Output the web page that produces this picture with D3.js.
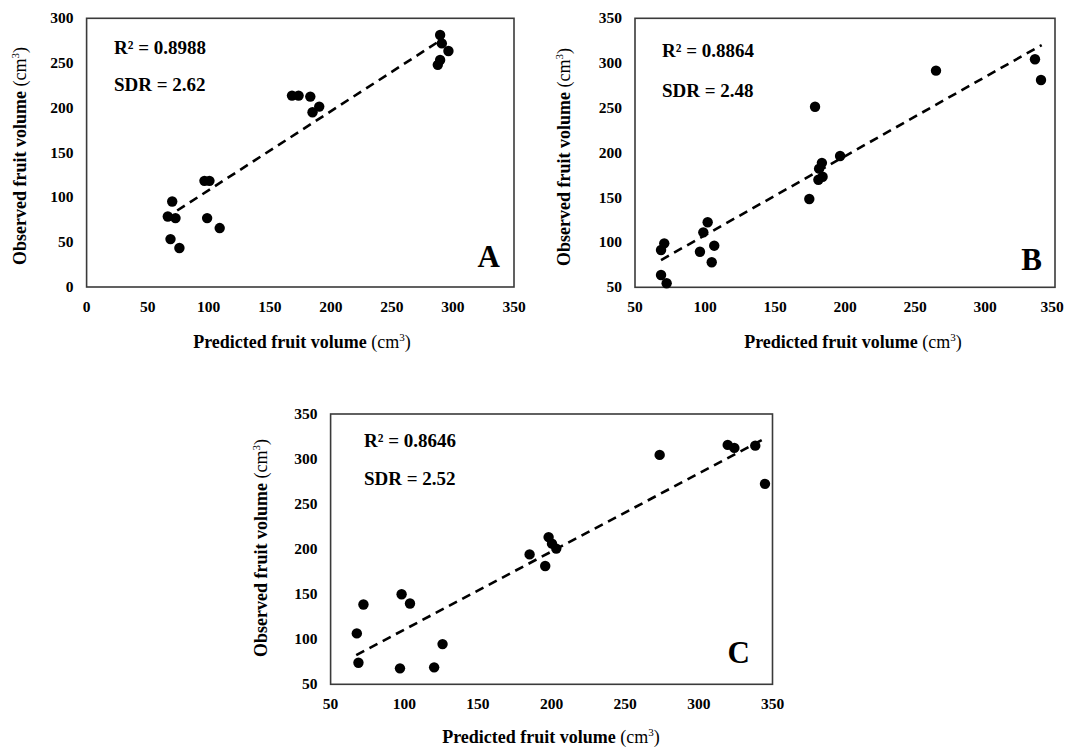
<!DOCTYPE html>
<html>
<head>
<meta charset="utf-8">
<script src="https://cdn.jsdelivr.net/npm/d3@7"></script>
<style>
  body { margin: 0; background: #fff; }
  svg { display: block; }
  text { font-family: "Liberation Serif", "Times New Roman", serif; fill: #000; }
</style>
</head>
<body>
<svg id="chart" width="1065" height="747"></svg>
<script>
'use strict';

// Panel A
const predA = [289.5, 290.9, 296.3, 289.5, 287.6, 168.2, 173.6, 183.2, 190.5, 185.0,
  96.5, 100.6, 70.1, 66.5, 72.8, 98.7, 109.0, 68.7, 76.0];
const obsA = [281.4, 272.0, 263.5, 253.5, 248.0, 213.7, 213.7, 212.6, 201.4, 195.1,
  118.5, 118.5, 95.5, 78.7, 76.9, 76.9, 65.8, 53.5, 43.5];
const trendA = [[74.2, 85.4], [288.1, 273.9]];
const xTicksA = [0, 50, 100, 150, 200, 250, 300, 350];
const yTicksA = [0, 50, 100, 150, 200, 250, 300];

// Panel B
const predB = [335.7, 340.0, 265.0, 178.6, 196.5, 183.5, 181.5, 184.0, 181.0, 174.5,
  101.9, 98.8, 106.6, 96.4, 104.8, 70.9, 68.6, 68.6, 72.6];
const obsB = [304.3, 281.2, 291.6, 251.4, 196.4, 188.8, 182.3, 173.3, 170.0, 148.5,
  122.5, 111.3, 96.4, 89.7, 77.9, 99.0, 91.6, 63.7, 54.5];
const trendB = [[68.6, 80.4], [340.5, 320.2]];
const xTicksB = [50, 100, 150, 200, 250, 300, 350];
const yTicksB = [50, 100, 150, 200, 250, 300, 350];

// Panel C
const predC = [319.6, 324.1, 338.3, 344.9, 273.4, 198.0, 200.3, 203.2, 185.1, 195.7,
  98.2, 103.9, 72.3, 67.8, 68.9, 126.0, 97.1, 120.3];
const obsC = [315.7, 312.4, 314.9, 272.5, 304.6, 213.4, 206.1, 200.6, 194.2, 181.3,
  150.0, 139.7, 138.6, 106.5, 73.9, 94.6, 67.7, 68.8];
const trendC = [[67.4, 82.4], [342.8, 321.2]];
const xTicksC = [50, 100, 150, 200, 250, 300, 350];
const yTicksC = [50, 100, 150, 200, 250, 300, 350];

const r2Labels = ['0.8988', '0.8864', '0.8646'];
const sdrLabels = ['2.62', '2.48', '2.52'];
const panelLetters = ['A', 'B', 'C'];

// layout for each panel (pixels)
const panels = [
  { x: predA, y: obsA, trend: trendA, xTicks: xTicksA, yTicks: yTicksA,
    box: [86.6, 514, 18.3, 287], statX: 114, r2Y: 53.5, sdrY: 90.5,
    letterX: 500, letterY: 267, yTitle: [26, 156], xTitle: [302, 348] },
  { x: predB, y: obsB, trend: trendB, xTicks: xTicksB, yTicks: yTicksB,
    box: [635, 1055, 18.3, 287.3], statX: 662, r2Y: 56.5, sdrY: 96.5,
    letterX: 1042, letterY: 270, yTitle: [570, 157], xTitle: [853, 348] },
  { x: predC, y: obsC, trend: trendC, xTicks: xTicksC, yTicks: yTicksC,
    box: [330.6, 772.5, 414, 684.3], statX: 364, r2Y: 447, sdrY: 485,
    letterX: 750, letterY: 663, yTitle: [267, 548], xTitle: [551, 743] }
];

const W = 1065;
const svg = d3.select('#chart');

function volumeTitle(sel, boldPart) {
  sel.append('tspan').attr('font-weight', 'bold').text(boldPart + ' ');
  sel.append('tspan').text('(cm');
  sel.append('tspan').attr('font-size', 11).attr('dy', -7).text('3');
  sel.append('tspan').attr('dy', 7).text(')');
}

panels.forEach((p, i) => {
  const [x0, x1, y0, y1] = p.box;
  const xs = d3.scaleLinear().domain(d3.extent(p.xTicks)).range([x0, x1]);
  const ys = d3.scaleLinear().domain(d3.extent(p.yTicks)).range([y1, y0]);
  const g = svg.append('g');

  // frame
  g.append('rect')
    .attr('x', x0).attr('y', y0)
    .attr('width', x1 - x0).attr('height', y1 - y0)
    .attr('fill', 'none').attr('stroke', '#3a3a3a').attr('stroke-width', 1.6);

  // tick labels
  g.selectAll('.xt').data(p.xTicks).enter().append('text')
    .attr('x', d => xs(d)).attr('y', y1 + 24.5)
    .attr('text-anchor', 'middle')
    .attr('font-size', 15.5).attr('font-weight', 'bold')
    .text(d => d)
    .each(function () {
      // keep the last label inside the page
      const b = this.getBBox();
      const over = b.x + b.width - (W - 1);
      if (over > 0) d3.select(this).attr('x', +this.getAttribute('x') - over);
    });
  g.selectAll('.yt').data(p.yTicks).enter().append('text')
    .attr('x', x0 - 13).attr('y', d => ys(d) + 5)
    .attr('text-anchor', 'end')
    .attr('font-size', 15.5).attr('font-weight', 'bold')
    .text(d => d);

  // trend line
  g.append('path')
    .datum(p.trend)
    .attr('d', d3.line().x(d => xs(d[0])).y(d => ys(d[1])))
    .attr('fill', 'none').attr('stroke', '#000')
    .attr('stroke-width', 2.6).attr('stroke-dasharray', '9,6');

  // points
  g.selectAll('circle').data(p.x).enter().append('circle')
    .attr('cx', d => xs(d)).attr('cy', (d, j) => ys(p.y[j]))
    .attr('r', 5.2).attr('fill', '#000');

  // stats
  g.append('text').attr('x', p.statX).attr('y', p.r2Y)
    .attr('font-size', 19).attr('font-weight', 'bold')
    .text('R² = ' + r2Labels[i]);
  g.append('text').attr('x', p.statX).attr('y', p.sdrY)
    .attr('font-size', 19).attr('font-weight', 'bold')
    .text('SDR = ' + sdrLabels[i]);

  // panel letter
  g.append('text').attr('x', p.letterX).attr('y', p.letterY)
    .attr('text-anchor', 'end')
    .attr('font-size', 31).attr('font-weight', 'bold')
    .text(panelLetters[i]);

  // axis titles
  g.append('text')
    .attr('x', p.xTitle[0]).attr('y', p.xTitle[1])
    .attr('text-anchor', 'middle').attr('font-size', 18)
    .call(volumeTitle, 'Predicted fruit volume');
  g.append('text')
    .attr('transform', `translate(${p.yTitle[0]},${p.yTitle[1]}) rotate(-90)`)
    .attr('text-anchor', 'middle').attr('font-size', 18)
    .call(volumeTitle, 'Observed fruit volume');
});
</script>
</body>
</html>
